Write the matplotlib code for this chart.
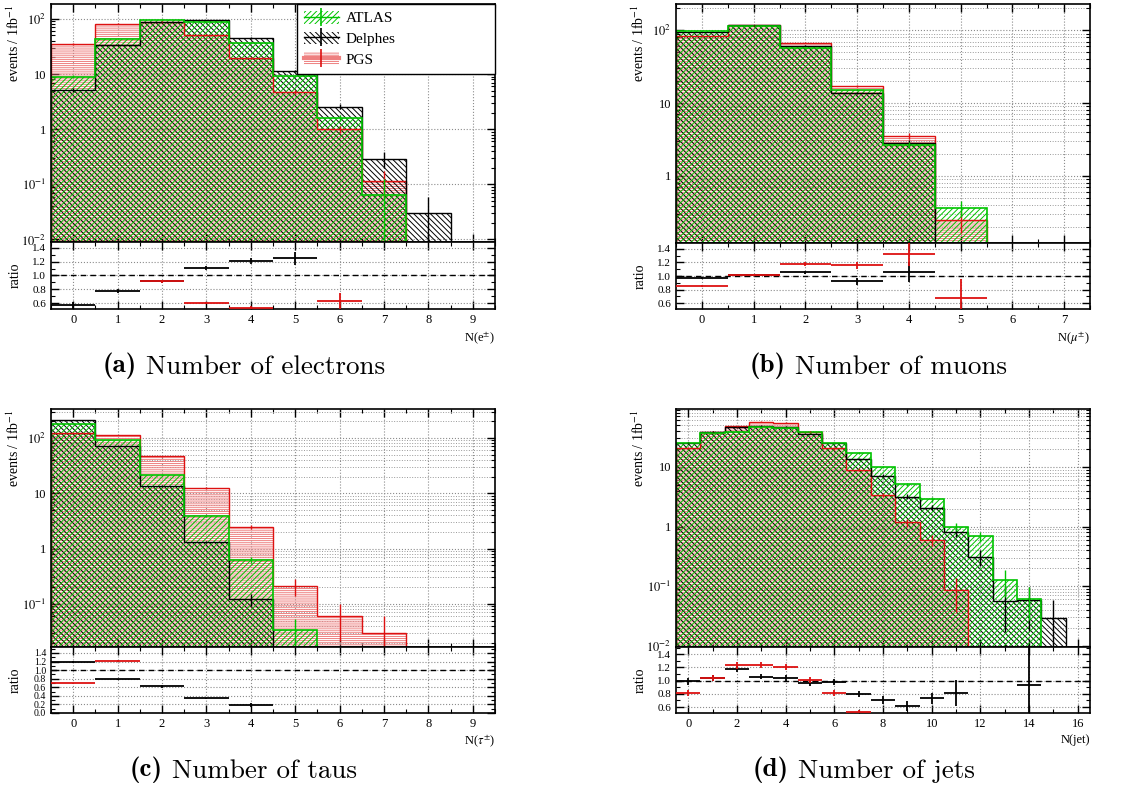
import numpy as np
import matplotlib
matplotlib.use("Agg")
import matplotlib.pyplot as plt
from matplotlib import ticker
from matplotlib.patches import Patch
from matplotlib.lines import Line2D

plt.rcParams['font.family'] = ['Liberation Serif', 'DejaVu Serif']
plt.rcParams['mathtext.fontset'] = 'stix'
plt.rcParams['hatch.linewidth'] = 0.7

# ---- event counts per bin (events / 1 fb^-1) and their errors ----
ele_atlas = [9.0, 44, 96, 86, 37, 9.2, 1.6, 0.064, 0, 0]
ele_atlas_err = [0.5, 1.1, 1.6, 1.5, 1.0, 0.5, 0.2, 0.06, 0, 0]
ele_delphes = [5.1, 34, 88, 95, 45, 11.5, 2.56, 0.29, 0.03, 0]
ele_delphes_err = [0.4, 1.0, 1.5, 1.6, 1.1, 0.55, 0.27, 0.09, 0.03, 0]
ele_pgs = [35, 81, 88, 52, 19.6, 4.7, 1.0, 0.117, 0, 0]
ele_pgs_err = [1.0, 1.5, 1.6, 1.2, 0.7, 0.35, 0.16, 0.06, 0, 0]

mu_atlas = [98, 115, 58, 15, 2.67, 0.36, 0, 0]
mu_atlas_err = [1.3, 1.4, 1.0, 0.5, 0.28, 0.09, 0, 0]
mu_delphes = [95, 117, 61, 13.8, 2.83, 0, 0, 0]
mu_delphes_err = [1.3, 1.4, 1.0, 0.5, 0.28, 0, 0, 0]
mu_pgs = [84, 117, 68, 17.4, 3.55, 0.245, 0, 0]
mu_pgs_err = [1.2, 1.4, 1.1, 0.55, 0.3, 0.08, 0, 0]

tau_atlas = [178, 92, 21.7, 3.82, 0.63, 0.033, 0, 0, 0, 0]
tau_atlas_err = [1.8, 1.3, 0.6, 0.15, 0.08, 0.02, 0, 0, 0, 0]
tau_delphes = [212, 72, 13.5, 1.3, 0.12, 0, 0, 0, 0, 0]
tau_delphes_err = [2.0, 1.2, 0.5, 0.06, 0.028, 0, 0, 0, 0, 0]
tau_pgs = [124, 112, 46.5, 12.5, 2.42, 0.207, 0.061, 0.0297, 0, 0]
tau_pgs_err = [1.5, 1.4, 0.9, 0.45, 0.2, 0.07, 0.04, 0.03, 0, 0]

jet_atlas = [25.5, 37, 39, 46, 45.5, 37.6, 25.1, 17.1, 10.0, 5.1, 2.85,
             1.0, 0.69, 0.127, 0.062, 0, 0]
jet_atlas_err = [0.9, 1.1, 1.2, 1.3, 1.3, 1.1, 0.9, 0.7, 0.5, 0.35, 0.25,
                 0.15, 0.13, 0.06, 0.035, 0, 0]
jet_delphes = [25.2, 38.5, 46, 48.8, 47.3, 36.1, 24.6, 13.7, 7.1, 3.16, 2.08,
               0.81, 0.31, 0.057, 0.058, 0.029, 0]
jet_delphes_err = [0.9, 1.1, 1.2, 1.3, 1.3, 1.1, 0.9, 0.6, 0.45, 0.3, 0.18,
                   0.15, 0.09, 0.04, 0.04, 0.029, 0]
jet_pgs = [20.7, 38.5, 48, 56.6, 55, 38, 20.3, 8.9, 3.4, 1.17, 0.59,
           0.087, 0, 0, 0, 0, 0]
jet_pgs_err = [0.8, 1.1, 1.2, 1.3, 1.3, 1.1, 0.8, 0.5, 0.3, 0.18, 0.12,
               0.05, 0, 0, 0, 0, 0]

styles = {
    'PGS': dict(color='#dd1111', hatchcolor='#ee8080', hatch='--------', lw=1.0),
    'Delphes': dict(color='black', hatchcolor='black', hatch='\\' * 6, lw=1.0),
    'ATLAS': dict(color='#00c400', hatchcolor='#00c400', hatch='//////', lw=1.2),
}

W, H = 1133, 787
FLOOR = 1e-6

panels = [
    dict(data={'ATLAS': (ele_atlas, ele_atlas_err), 'Delphes': (ele_delphes, ele_delphes_err),
               'PGS': (ele_pgs, ele_pgs_err)},
         main=(51, 4, 495, 242), ratio=(51, 242, 495, 309), ylim=(0.009, 186),
         rlim=(0.514, 1.486), rticks=[0.6, 0.8, 1.0, 1.2, 1.4], xstep=1,
         xlabel=r'N(e$^{\pm}$)', caption=('(a)', 'Number of electrons'), cap_xy=(103, 372),
         minor_grid=False, legend=True),
    dict(data={'ATLAS': (mu_atlas, mu_atlas_err), 'Delphes': (mu_delphes, mu_delphes_err),
               'PGS': (mu_pgs, mu_pgs_err)},
         main=(676, 4, 1090, 243), ratio=(676, 243, 1090, 309), ylim=(0.12, 230),
         rlim=(0.514, 1.486), rticks=[0.6, 0.8, 1.0, 1.2, 1.4], xstep=1,
         xlabel=r'N($\mu^{\pm}$)', caption=('(b)', 'Number of muons'), cap_xy=(750, 372),
         minor_grid=True, legend=False),
    dict(data={'ATLAS': (tau_atlas, tau_atlas_err), 'Delphes': (tau_delphes, tau_delphes_err),
               'PGS': (tau_pgs, tau_pgs_err)},
         main=(51, 409, 495, 647), ratio=(51, 647, 495, 713), ylim=(0.0166, 333),
         rlim=(0.0, 1.54), rticks=[0.0, 0.2, 0.4, 0.6, 0.8, 1.0, 1.2, 1.4], xstep=1,
         xlabel=r'N($\tau^{\pm}$)', caption=('(c)', 'Number of taus'), cap_xy=(130, 776),
         minor_grid=True, legend=False),
    dict(data={'ATLAS': (jet_atlas, jet_atlas_err), 'Delphes': (jet_delphes, jet_delphes_err),
               'PGS': (jet_pgs, jet_pgs_err)},
         main=(676, 409, 1090, 647), ratio=(676, 647, 1090, 713), ylim=(0.0096, 93),
         rlim=(0.51, 1.51), rticks=[0.6, 0.8, 1.0, 1.2, 1.4], xstep=2,
         xlabel='N(jet)', caption=('(d)', 'Number of jets'), cap_xy=(753, 776),
         minor_grid=True, legend=False),
]


def px_axes(fig, box):
    x0, y0, x1, y1 = box
    return fig.add_axes([x0 / W, 1 - y1 / H, (x1 - x0) / W, (y1 - y0) / H])


def log_label(v, pos):
    e = int(round(np.log10(v)))
    if e == 0:
        return '1'
    if e == 1:
        return '10'
    return r'$10^{%d}$' % e


def style_axes(ax, labelsize):
    for s in ax.spines.values():
        s.set_linewidth(1.2)
    ax.tick_params(which='both', direction='in', top=True, right=True, labelsize=labelsize)
    ax.tick_params(which='major', length=6, width=1.0)
    ax.tick_params(which='minor', length=3, width=0.8)
    ax.set_axisbelow(True)


fig = plt.figure(figsize=(W / 100, H / 100), dpi=100)

for p in panels:
    nbins = len(p['data']['ATLAS'][0])
    edges = np.arange(nbins + 1) - 0.5
    centers = np.arange(nbins)

    ax = px_axes(fig, p['main'])
    axr = px_axes(fig, p['ratio'])
    ax.set_yscale('log')

    for name in ['PGS', 'Delphes', 'ATLAS']:
        st = styles[name]
        vals = np.array(p['data'][name][0], dtype=float)
        errs = np.array(p['data'][name][1], dtype=float)
        shown = np.where(vals > 0, vals, FLOOR)
        ax.stairs(shown, edges, baseline=FLOOR, fill=True, facecolor='none',
                  edgecolor=st['hatchcolor'], hatch=st['hatch'], linewidth=0, zorder=1)
        ax.stairs(shown, edges, baseline=FLOOR, color=st['color'], linewidth=st['lw'], zorder=2)
        nz = vals > 0
        ax.vlines(centers[nz], np.maximum(vals[nz] - errs[nz], FLOOR), vals[nz] + errs[nz],
                  color=st['color'], linewidth=1.0, zorder=3)

    ax.set_xlim(-0.5, nbins - 0.5)
    ax.set_ylim(*p['ylim'])
    ax.yaxis.set_major_locator(ticker.LogLocator(base=10))
    ax.yaxis.set_minor_locator(ticker.LogLocator(base=10, subs=np.arange(2, 10)))
    ax.yaxis.set_major_formatter(ticker.FuncFormatter(log_label))
    ax.yaxis.set_minor_formatter(ticker.NullFormatter())
    ax.xaxis.set_major_locator(ticker.MultipleLocator(p['xstep']))
    ax.xaxis.set_minor_locator(ticker.MultipleLocator(p['xstep'] / 2))
    ax.tick_params(labelbottom=False)
    ax.grid(which='major', color='0.55', linestyle=':', linewidth=0.8)
    if p['minor_grid']:
        ax.grid(which='minor', axis='y', color='0.6', linestyle=':', linewidth=0.7)
    style_axes(ax, 9)
    ax.set_ylabel(r'events / 1fb$^{-1}$', loc='top', fontsize=10)
    ax.yaxis.set_label_coords(-29 / (p['main'][2] - p['main'][0]), 1.0)

    # ratio to ATLAS, only for points inside the ratio range
    a = np.array(p['data']['ATLAS'][0], dtype=float)
    ae = np.array(p['data']['ATLAS'][1], dtype=float)
    lo, hi = p['rlim']
    for name in ['Delphes', 'PGS']:
        o = np.array(p['data'][name][0], dtype=float)
        oe = np.array(p['data'][name][1], dtype=float)
        ok = (a > 0) & (o > 0)
        r = np.zeros_like(a)
        re = np.zeros_like(a)
        r[ok] = o[ok] / a[ok]
        re[ok] = r[ok] * np.sqrt((oe[ok] / o[ok]) ** 2 + (ae[ok] / a[ok]) ** 2)
        ok &= (r > lo) & (r < hi)
        axr.errorbar(centers[ok], r[ok], xerr=0.5, yerr=re[ok], fmt='none',
                     ecolor=styles[name]['color'], elinewidth=1.3, capsize=0, zorder=3)
    axr.axhline(1.0, color='black', linestyle='--', linewidth=1.0, dashes=(4, 3), zorder=2)
    axr.set_xlim(-0.5, nbins - 0.5)
    axr.set_ylim(lo, hi)
    axr.set_yticks(p['rticks'])
    axr.yaxis.set_major_formatter(ticker.FormatStrFormatter('%.1f'))
    axr.yaxis.set_minor_locator(ticker.MultipleLocator(0.1))
    axr.xaxis.set_major_locator(ticker.MultipleLocator(p['xstep']))
    axr.xaxis.set_minor_locator(ticker.MultipleLocator(p['xstep'] / 2))
    axr.grid(which='major', color='0.55', linestyle=':', linewidth=0.8)
    style_axes(axr, 9)
    axr.tick_params(axis='y', labelsize=8 if len(p['rticks']) < 6 else 7)
    axr.set_ylabel('ratio', fontsize=10)
    axr.yaxis.set_label_coords(-29 / (p['ratio'][2] - p['ratio'][0]), 0.5)
    axr.set_xlabel(p['xlabel'], loc='right', fontsize=9)
    axr.xaxis.set_label_coords(1.0, -0.32)

    if p['legend']:
        handles = []
        for name in ['ATLAS', 'Delphes', 'PGS']:
            st = styles[name]
            box = Patch(facecolor='white', edgecolor=st['hatchcolor'], hatch=st['hatch'], linewidth=0)
            bar_lw = 3.0 if name == 'PGS' else 1.0
            bar_col = st['hatchcolor'] if name == 'PGS' else st['color']
            across = Line2D([], [], color=bar_col, linewidth=bar_lw)
            cross = Line2D([], [], color=st['color'], linestyle='none', marker='|',
                           markersize=13, markeredgewidth=1.2)
            handles.append((box, across, cross))
        leg_w = 198 / (p['main'][2] - p['main'][0])
        leg = ax.legend(handles, ['ATLAS', 'Delphes', 'PGS'], loc='upper right',
                        bbox_to_anchor=(1.0 - leg_w, 0.0, leg_w, 1.0), mode='expand',
                        alignment='left', borderaxespad=0, fontsize=11,
                        fancybox=False, framealpha=1, edgecolor='black',
                        handlelength=2.3, handleheight=0.9, labelspacing=0.4,
                        borderpad=0.45, handletextpad=0.45)
        leg.get_frame().set_linewidth(1.0)
        leg.set_zorder(10)

    # caption under the panel: bold tag followed by the title
    label, title = p['caption']
    tx, ty = p['cap_xy'][0] / W, 1 - p['cap_xy'][1] / H
    t1 = fig.text(tx, ty, label, ha='left', va='baseline', fontsize=19.5, family='cmb10')
    plt.annotate(' ' + title, xy=(1.0, 0.0), xycoords=t1, ha='left', va='bottom',
                 fontsize=19.5, family='cmr10', annotation_clip=False)

fig.savefig('out.png', dpi=100)
